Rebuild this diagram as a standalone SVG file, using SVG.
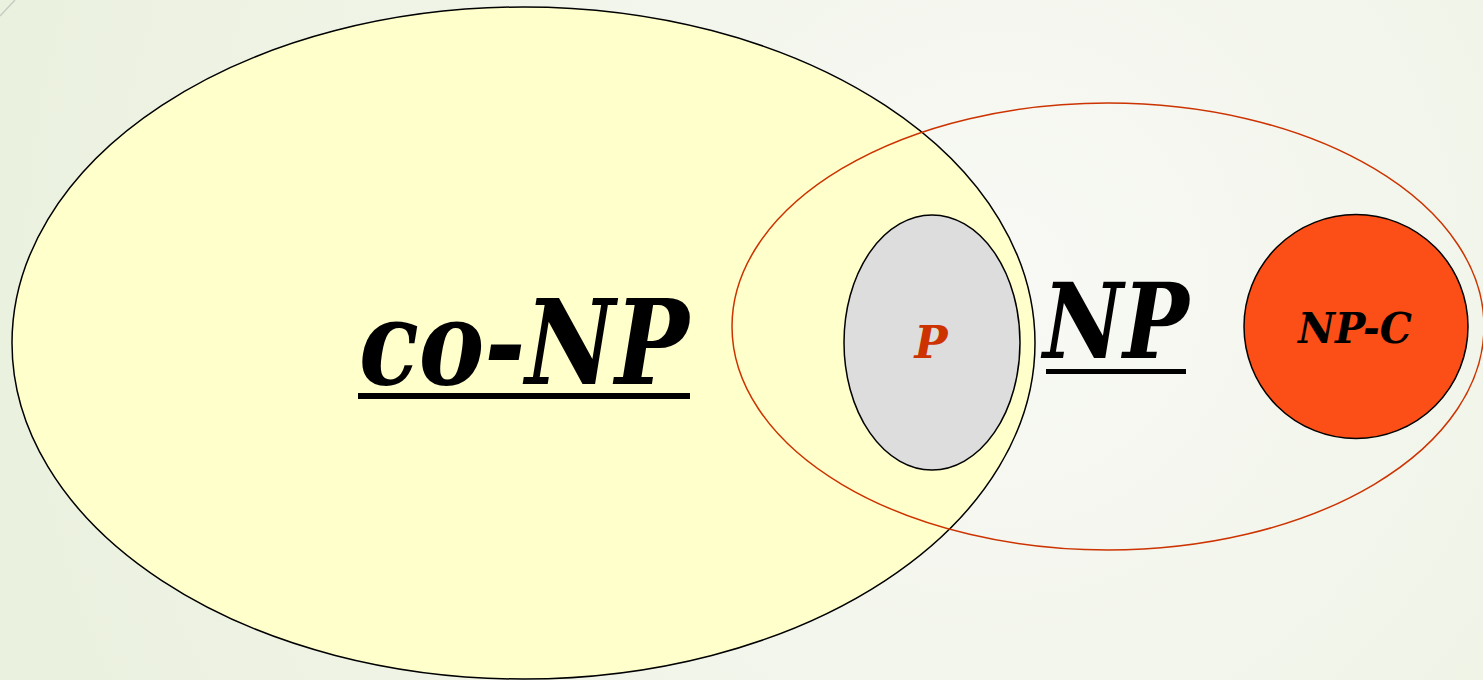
<svg xmlns="http://www.w3.org/2000/svg" width="1483" height="680" viewBox="0 0 1483 680">
<defs>
<radialGradient id="bg" cx="1000" cy="280" r="1000" gradientUnits="userSpaceOnUse">
<stop offset="0" stop-color="#f8f9f5"/>
<stop offset="1" stop-color="#ebf1df"/>
</radialGradient>
<style>
.lbl{font-family:"DejaVu Serif","Liberation Serif",serif;font-style:italic;font-weight:bold;text-anchor:middle}
</style>
</defs>
<rect x="0" y="0" width="1483" height="680" fill="url(#bg)"/>
<line x1="0" y1="16" x2="15" y2="0" stroke="#c8cbc0" stroke-width="1.5"/>
<g id="coNP">
<ellipse cx="523.5" cy="343" rx="511.5" ry="336" fill="#ffffcc" stroke="#000" stroke-width="1.5"/>
<text class="lbl" x="524" y="384" font-size="118" textLength="330" lengthAdjust="spacingAndGlyphs">co-NP</text>
<rect x="358" y="393" width="332" height="6" fill="#000"/>
</g>
<g id="NP">
<ellipse cx="1108" cy="326.5" rx="376" ry="223.5" fill="none" stroke="#cc3300" stroke-width="1.5"/>
<text class="lbl" x="1116" y="358" font-size="104" textLength="146" lengthAdjust="spacingAndGlyphs">NP</text>
<rect x="1046" y="369" width="140" height="5" fill="#000"/>
</g>
<g id="P">
<ellipse cx="932" cy="342.5" rx="88" ry="127.5" fill="#dddddd" stroke="#000" stroke-width="1.5"/>
<text class="lbl" x="931" y="358" font-size="44" fill="#cc3300">P</text>
</g>
<g id="NPC">
<circle cx="1356" cy="326.5" r="112" fill="#fc4e17" stroke="#000" stroke-width="1.5"/>
<text class="lbl" x="1355" y="343" font-size="42" textLength="114" lengthAdjust="spacingAndGlyphs">NP-C</text>
</g>
<g id="connectors"></g>
</svg>
